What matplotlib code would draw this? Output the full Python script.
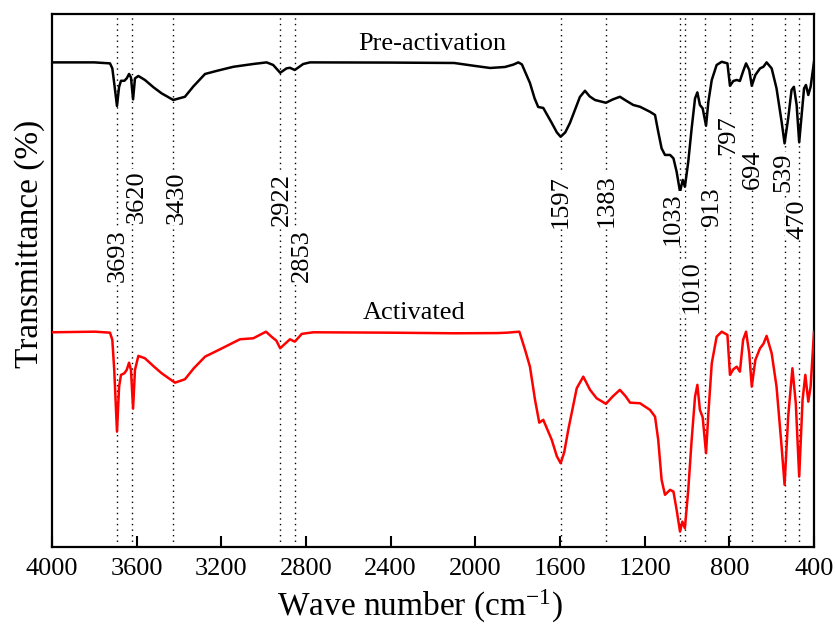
import numpy as np
import matplotlib
matplotlib.use("Agg")
import matplotlib.pyplot as plt

plt.rcParams['font.family'] = ['Liberation Serif', 'DejaVu Serif']
plt.rcParams['mathtext.fontset'] = 'custom'
plt.rcParams['mathtext.rm'] = 'Liberation Serif'
plt.rcParams['mathtext.it'] = 'Liberation Serif:italic'

# ---- data (relative transmittance, arbitrary units) ----
pre_wn = [4000, 3800, 3726, 3715, 3706, 3693, 3683, 3674, 3658, 3647, 3636, 3627, 3617, 3608,
          3592, 3561, 3520, 3482, 3427, 3372, 3332, 3277, 3220, 3143, 3049, 2986, 2955, 2922,
          2892, 2876, 2853, 2813, 2781, 2400, 2100, 2000, 1930, 1860, 1820, 1797, 1780, 1742,
          1720, 1703, 1679, 1639, 1615, 1597, 1575, 1553, 1506, 1482, 1460, 1435, 1383, 1350,
          1317, 1290, 1254, 1222, 1175, 1151, 1136, 1120, 1104, 1080, 1064, 1049, 1033, 1020,
          1010, 994, 978, 962, 951, 939, 926, 910, 899, 883, 860, 836, 809, 797, 781, 765,
          750, 735, 721, 706, 694, 677, 655, 639, 624, 600, 577, 553, 539, 522, 506, 495,
          482, 470, 457, 447, 438, 427, 416, 400]
pre_t = [100, 100, 99.5, 97.0, 89.5, 78.2, 87.8, 90.8, 90.8, 92.0, 94.2, 92.5, 81.5, 92.0,
         93.2, 91.2, 87.5, 84.5, 81.2, 82.8, 88.0, 94.2, 95.8, 97.8, 99.2, 100, 98.7, 94.8,
         97.0, 97.3, 96.2, 99.2, 100, 99.9, 99.7, 98.2, 97.2, 97.7, 98.9, 100, 99.0, 89.7,
         82.0, 77.7, 77.2, 69.7, 65.0, 62.8, 65.0, 69.7, 82.7, 85.8, 83.0, 81.2, 79.8, 81.5,
         82.8, 81.0, 78.7, 77.8, 75.3, 73.7, 65.3, 57.0, 53.7, 53.7, 52.0, 45.3, 35.3, 41.2,
         37.8, 50.3, 67.0, 82.0, 85.0, 78.7, 77.0, 68.3, 80.3, 91.2, 98.7, 100.3, 99.5, 88.3, 90.7, 91.2,
         90.7, 95.5, 99.5, 96.2, 88.3, 93.7, 97.0, 97.8, 100, 97.0, 87.0, 70.3, 59.5, 72.0, 86.2, 87.8,
         78.7, 60.0, 75.3, 87.0, 88.7, 83.7, 87.8, 100.3]

act_wn = [4000, 3797, 3726, 3715, 3706, 3693, 3683, 3674, 3658, 3647, 3636, 3627, 3617, 3608,
          3592, 3561, 3520, 3482, 3419, 3372, 3330, 3277, 3206, 3112, 3049, 2989, 2962, 2940,
          2922, 2876, 2853, 2820, 2765, 2400, 2100, 1900, 1850, 1792, 1765, 1742, 1718, 1698,
          1679, 1639, 1615, 1597, 1580, 1561, 1521, 1490, 1458, 1427, 1383, 1350, 1317, 1290,
          1269, 1222, 1175, 1151, 1136, 1120, 1104, 1080, 1064, 1049, 1033, 1022, 1010, 994,
          978, 962, 951, 939, 926, 910, 899, 883, 860, 836, 809, 797, 781, 765, 750, 735,
          721, 706, 694, 677, 655, 639, 624, 600, 577, 553, 539, 522, 502, 486, 470, 454,
          441, 427, 416, 400]
act_t = [100, 100.3, 99.8, 96.2, 81.2, 50.3, 72.8, 78.7, 79.5, 81.2, 84.8, 81.2, 61.8, 81.2,
         88.2, 87.0, 83.0, 79.5, 74.8, 76.5, 82.0, 87.8, 91.5, 96.5, 97.0, 100.3, 97.7, 95.8,
         92.0, 96.5, 95.3, 99.2, 100, 99.8, 99.5, 99.6, 99.8, 100.3, 91.2, 82.8, 66.2, 54.8,
         56.2, 46.2, 38.0, 34.5, 40.0, 51.2, 72.0, 77.8, 71.2, 67.0, 64.2, 68.0, 71.2, 68.0,
         64.8, 64.5, 61.2, 57.8, 46.2, 26.2, 18.7, 21.2, 20.3, 11.2, 0.3, 5.3, 2.0, 21.2,
         46.2, 67.8, 73.7, 61.2, 57.5, 39.5, 59.5, 84.5, 97.8, 100.3, 98.7, 78.7, 81.5, 82.8, 80.3, 96.2,
         100.3, 89.5, 72.8, 86.2, 92.0, 94.2, 98.2, 89.5, 72.8, 42.8, 23.7, 57.8, 82.0, 64.5, 27.8, 66.2,
         78.7, 65.3, 72.8, 100.3]

peak_wn = [3693, 3620, 3430, 2922, 2853, 1597, 1383, 1033, 1010, 913, 797, 694, 539, 470]
peak_labels = ["3693", "3620", "3430", "2922", "2853", "1597", "1383",
               "1033", "1010", "913", "797", "694", "539", "470"]
# label anchor (x in wavenumber, y in axis units)
label_x = [3688, 3598, 3409, 2913, 2819, 1595, 1379, 1066, 976, 882, 806, 688, 546, 480]
label_y = [138.4, 167.9, 167.4, 166.4, 138.4, 165.4, 165.9, 156.9, 122.9, 162.4, 198.4, 181.4, 179.9, 156.4]

offset = 135.0

fig = plt.figure(figsize=(8.35, 6.25), dpi=100)
ax = fig.add_axes([52/835, 1-547/625, 762/835, 533/625])

ax.plot(pre_wn, np.array(pre_t) + offset, color='black', lw=1.8, zorder=3,
        solid_joinstyle='round')
ax.plot(act_wn, act_t, color='#ff0000', lw=1.8, zorder=3, solid_joinstyle='round')

for w in peak_wn:
    ax.axvline(w, color='black', lw=1.0, ls=(0, (1, 3)), zorder=1)

for lx, ly, lab in zip(label_x, label_y, peak_labels):
    ax.text(lx, ly, lab, rotation=90, ha='center', va='center', fontsize=19, zorder=4,
            bbox=dict(facecolor='white', edgecolor='none', pad=0.5))

ax.text(2205, 241.1, "Pre-activation", ha='center', va='baseline', fontsize=19)
ax.text(2290, 106.6, "Activated", ha='center', va='baseline', fontsize=19)

ax.set_xlim(4000, 400)
ax.set_ylim(-7.4, 259.2)
ax.set_xticks([4000, 3600, 3200, 2800, 2400, 2000, 1600, 1200, 800, 400])
ax.set_yticks([])
ax.tick_params(axis='x', direction='in', length=8, width=1.5, labelsize=19, pad=8)
for s in ax.spines.values():
    s.set_linewidth(1.6)

fig.text(30/835, 1-244/625, "Transmittance (%)", rotation=90, ha='center', va='center', fontsize=24)
fig.text(420/835, 1-616/625, "Wave number (cm$^{\\mathrm{-1}}$)", ha='center', va='baseline', fontsize=24)

fig.savefig("out.png", dpi=100)
